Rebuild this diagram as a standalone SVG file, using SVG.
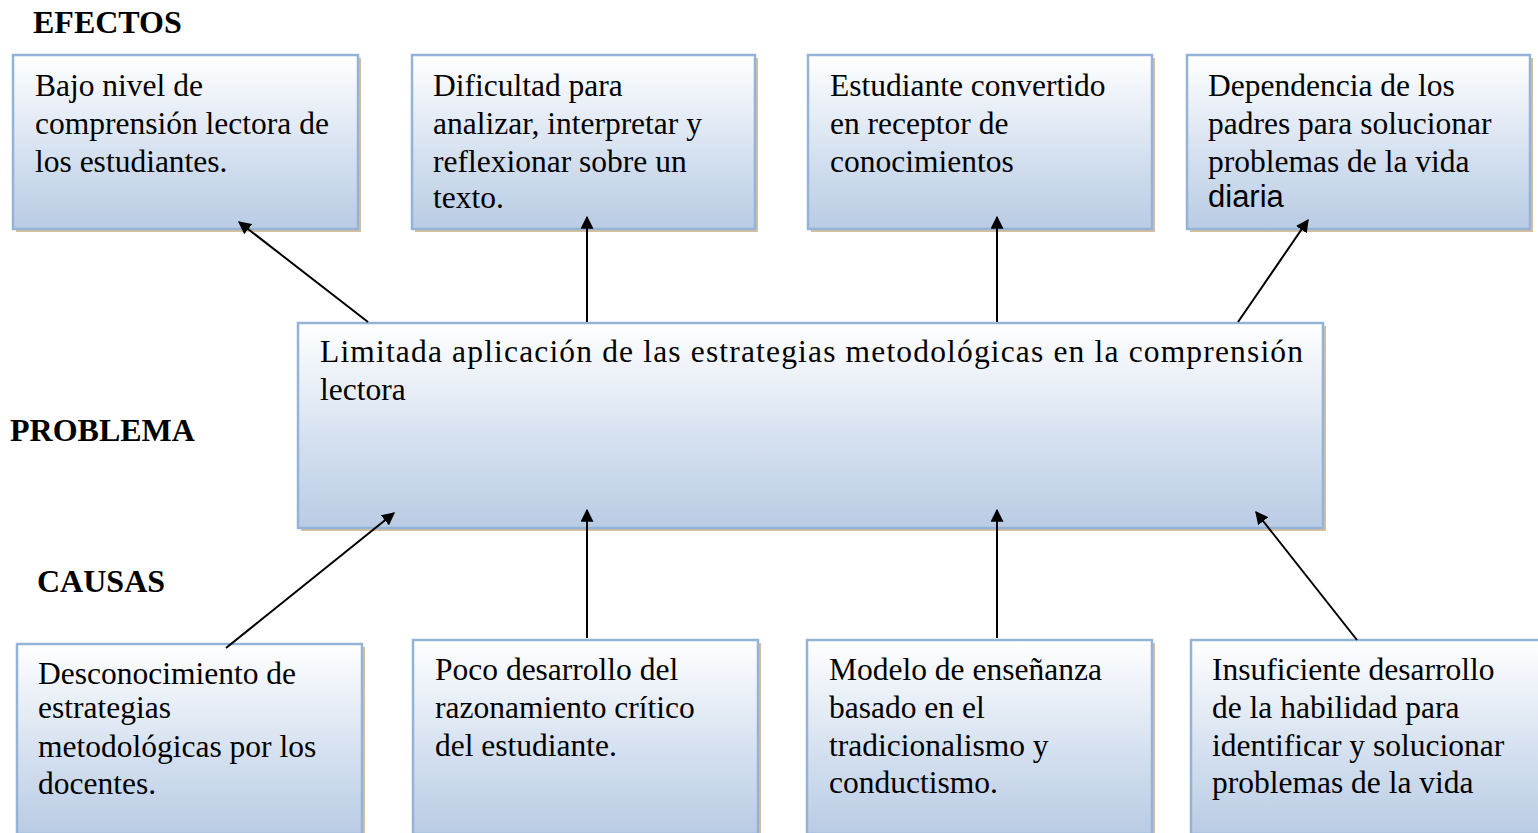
<svg xmlns="http://www.w3.org/2000/svg" width="1538" height="833" viewBox="0 0 1538 833">
<defs>
<linearGradient id="g" x1="0" y1="0" x2="0" y2="1">
<stop offset="0" stop-color="#ffffff"/>
<stop offset="0.6" stop-color="#d3dfef"/>
<stop offset="1" stop-color="#b9cce4"/>
</linearGradient>
<marker id="ah2" viewBox="0 0 10 10" refX="9" refY="5" markerWidth="13" markerHeight="13" markerUnits="userSpaceOnUse" orient="auto">
<path d="M0,0 L10,5 L0,10 Z" fill="#000"/>
</marker>
</defs>
<style>
.sh{fill:#d8bf9c;stroke:none}
.bx{fill:url(#g);stroke:#95b3d7;stroke-width:2.5}
.t{font-family:"Liberation Serif","Times New Roman",serif;font-size:31.5px;fill:#000}
.s{font-family:"Liberation Sans",Arial,sans-serif;font-size:31px;fill:#000}
.h{font-family:"Liberation Serif","Times New Roman",serif;font-size:32px;font-weight:bold;fill:#000}
.c{stroke:#000;stroke-width:2;fill:none}
</style>

<g id="labels">
<text class="h" x="33" y="33">EFECTOS</text>
<text class="h" x="10" y="441">PROBLEMA</text>
<text class="h" x="37" y="592">CAUSAS</text>
</g>

<g id="efecto1">
<rect class="sh" x="16" y="58" width="345" height="174"/>
<rect class="bx" x="13" y="55" width="345" height="174"/>
<text class="t" x="35" y="96">Bajo nivel de</text>
<text class="t" x="35" y="134">comprensión lectora de</text>
<text class="t" x="35" y="172">los estudiantes.</text>
</g>
<g id="efecto2">
<rect class="sh" x="415" y="58" width="343" height="174"/>
<rect class="bx" x="412" y="55" width="343" height="174"/>
<text class="t" x="433" y="96">Dificultad para</text>
<text class="t" x="433" y="134">analizar, interpretar y</text>
<text class="t" x="433" y="172">reflexionar sobre un</text>
<text class="t" x="433" y="208">texto.</text>
</g>
<g id="efecto3">
<rect class="sh" x="811" y="58" width="344" height="174"/>
<rect class="bx" x="808" y="55" width="344" height="174"/>
<text class="t" x="830" y="96">Estudiante convertido</text>
<text class="t" x="830" y="134">en receptor de</text>
<text class="t" x="830" y="172">conocimientos</text>
</g>
<g id="efecto4">
<rect class="sh" x="1190" y="58" width="343" height="174"/>
<rect class="bx" x="1187" y="55" width="343" height="174"/>
<text class="t" x="1208" y="96">Dependencia de los</text>
<text class="t" x="1208" y="134">padres para solucionar</text>
<text class="t" x="1208" y="172">problemas de la vida</text>
<text class="s" x="1208" y="207">diaria</text>
</g>

<g id="problema">
<rect class="sh" x="301" y="326" width="1025" height="205"/>
<rect class="bx" x="298" y="323" width="1025" height="205"/>
<text class="t" x="320" y="362" textLength="983" lengthAdjust="spacing">Limitada aplicación de las estrategias metodológicas en la comprensión</text>
<text class="t" x="320" y="400">lectora</text>
</g>

<g id="causa1">
<rect class="sh" x="20" y="647" width="345" height="190"/>
<rect class="bx" x="17" y="644" width="345" height="190"/>
<text class="t" x="38" y="684">Desconocimiento de</text>
<text class="t" x="38" y="718">estrategias</text>
<text class="t" x="38" y="757">metodológicas por los</text>
<text class="t" x="38" y="794">docentes.</text>
</g>
<g id="causa2">
<rect class="sh" x="416" y="643" width="345" height="194"/>
<rect class="bx" x="413" y="640" width="345" height="194"/>
<text class="t" x="435" y="680">Poco desarrollo del</text>
<text class="t" x="435" y="718">razonamiento crítico</text>
<text class="t" x="435" y="756">del estudiante.</text>
</g>
<g id="causa3">
<rect class="sh" x="810" y="643" width="345" height="194"/>
<rect class="bx" x="807" y="640" width="345" height="194"/>
<text class="t" x="829" y="680">Modelo de enseñanza</text>
<text class="t" x="829" y="718">basado en el</text>
<text class="t" x="829" y="756">tradicionalismo y</text>
<text class="t" x="829" y="793">conductismo.</text>
</g>
<g id="causa4">
<rect class="sh" x="1194" y="643" width="350" height="194"/>
<rect class="bx" x="1191" y="640" width="350" height="194"/>
<text class="t" x="1212" y="680">Insuficiente desarrollo</text>
<text class="t" x="1212" y="718">de la habilidad para</text>
<text class="t" x="1212" y="756">identificar y solucionar</text>
<text class="t" x="1212" y="793">problemas de la vida</text>
</g>

<g id="connectors">
<line class="c" x1="368" y1="322" x2="239" y2="222" marker-end="url(#ah2)"/>
<line class="c" x1="587" y1="322" x2="587" y2="217" marker-end="url(#ah2)"/>
<line class="c" x1="997" y1="322" x2="997" y2="217" marker-end="url(#ah2)"/>
<line class="c" x1="1238" y1="322" x2="1308" y2="220" marker-end="url(#ah2)"/>
<line class="c" x1="226" y1="648" x2="394" y2="513" marker-end="url(#ah2)"/>
<line class="c" x1="587" y1="638" x2="587" y2="510" marker-end="url(#ah2)"/>
<line class="c" x1="997" y1="638" x2="997" y2="510" marker-end="url(#ah2)"/>
<line class="c" x1="1357" y1="640" x2="1256" y2="512" marker-end="url(#ah2)"/>
</g>
</svg>
